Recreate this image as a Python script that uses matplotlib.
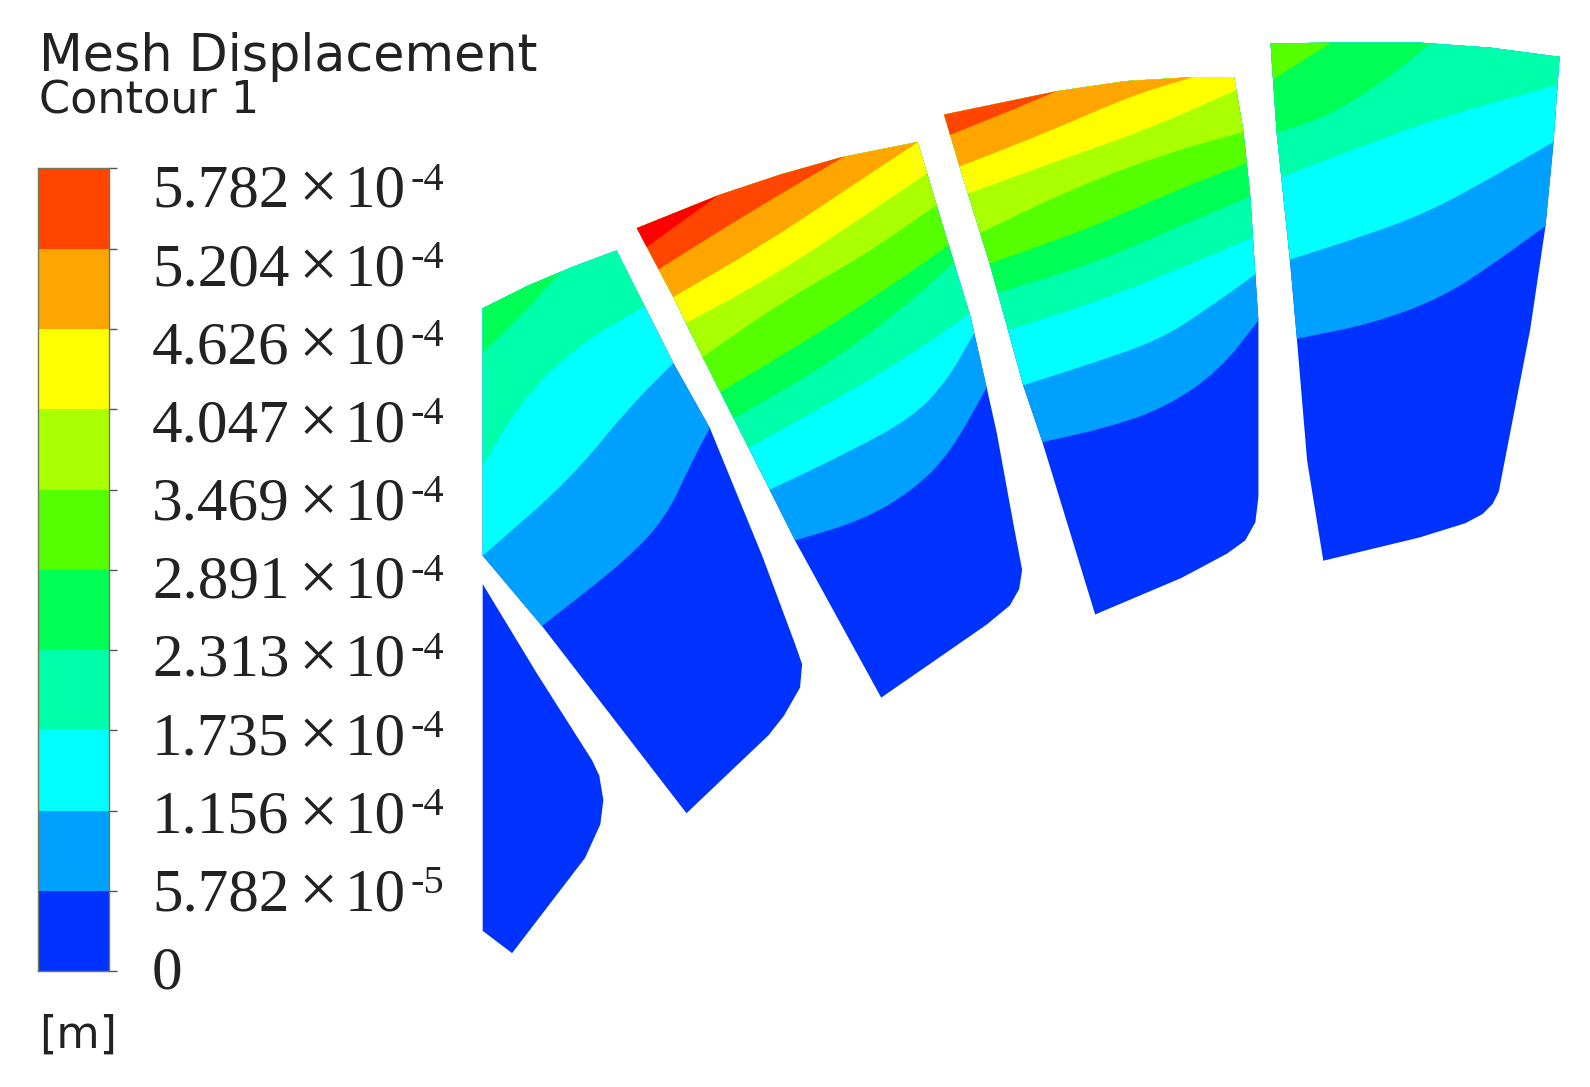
import numpy as np
import matplotlib
matplotlib.use("Agg")
import matplotlib.pyplot as plt
from matplotlib.path import Path
from matplotlib.patches import PathPatch, Polygon

W, H = 1568, 1072  # outline coordinates at this size

#legend values

levels = [0, 5.782e-5, 1.156e-4, 1.735e-4, 2.313e-4, 2.891e-4, 3.469e-4, 4.047e-4, 4.626e-4, 5.204e-4, 5.782e-4]
level_numbers = ['0', '5.782', '1.156', '1.735', '2.313', '2.891', '3.469', '4.047', '4.626', '5.204', '5.782']
level_powers = ['', '-5', '-4', '-4', '-4', '-4', '-4', '-4', '-4', '-4', '-4']
colours = ['#0032ff', '#00a0ff', '#00ffff', '#00ffaa', '#00ff55', '#55ff00',
           '#aaff00', '#ffff00', '#ffa500', '#ff4500', '#ff0000']

#blade outlines

blade_a = [(476,576),(530,665),(584,750),(591,765),(595,789),(592,813),(577,846),(505,940),(476,918)]
blade_b = [(476,304),(520,282),(565,263),(608,247),(664,358),(700,422),(752,549),(784,635),(791,655),(789,678),
           (773,706),(758,725),(677,802),(535,618),(476,548)]
blade_c = [(628,225),(710,192),(770,172),(830,155),(905,140),(928,217),(957,312),(973,382),(983,427),(1000,520),
           (1008,562),(1005,581),(996,597),(973,616),(869,688),(784,533),(759,483),(693,352),(664,293)]
blade_d = [(931,113),(1042,90),(1110,80),(1177,76),(1217,76),(1226,128),(1233,194),(1241,316),(1241,490),(1238,515),
           (1228,533),(1210,546),(1165,570),(1080,606),(1028,436),(1009,380),(976,260),(945,160)]
blade_e = [(1253,43),(1310,42),(1400,42),(1470,47),(1538,56),(1532,141),(1524,224),(1509,325),(1478,485),(1472,497),
           (1462,507),(1445,516),(1400,530),(1305,553),(1289,454),(1279,335),(1272,256),(1259,131)]

#contour lines of each blade, lowest level first

b_lines = [
    [(535,617),(618,552),(657,510),(680,460),(700,422)],
    [(483,542),(562,473),(621,401),(664,358)],
    [(476,460),(513,396),(570,340),(634,303)],
    [(476,348),(513,312),(549,273)],
]
c_lines = [
    [(784,533),(851,513),(901,483),(937,447),(973,382)],
    [(759,483),(835,447),(901,411),(934,375),(957,335)],
    [(740,441),(835,388),(901,348),(957,309)],
    [(727,411),(818,358),(884,309),(940,260)],
    [(713,385),(802,332),(868,289),(934,243)],
    [(693,352),(769,299),(855,250),(927,200)],
    [(676,319),(763,272),(851,214),(914,171)],
    [(664,293),(755,240),(833,188),(904,141)],
    [(649,266),(738,210),(835,153)],
    [(636,245),(705,195)],
]
d_lines = [
    [(1028,436),(1095,421),(1151,401),(1203,365),(1241,316)],
    [(1009,380),(1078,358),(1144,335),(1193,303),(1240,269)],
    [(996,325),(1078,299),(1161,266),(1236,234)],
    [(983,289),(1078,260),(1161,224),(1233,194)],
    [(976,260),(1078,224),(1161,187),(1230,161)],
    [(966,230),(1062,184),(1151,151),(1223,131)],
    [(957,190),(1045,158),(1131,128),(1219,89)],
    [(947,164),(1039,128),(1114,95),(1177,76)],
    [(937,133),(992,111),(1042,90)],
]
e_lines = [
    [(1279,334),(1354,319),(1423,293),(1473,260),(1524,223)],
    [(1272,256),(1341,234),(1407,210),(1473,174),(1532,140)],
    [(1266,174),(1341,145),(1423,115),(1532,85)],
    [(1259,131),(1308,115),(1358,85),(1407,46)],
    [(1253,80),(1313,42)],
]


def band_path(line):
    #everything above a contour line, ends pushed out past the blade edge
    p = np.array(line, dtype=float)
    start = p[0] + (p[0] - p[1]) / np.linalg.norm(p[0] - p[1]) * 45
    end = p[-1] + (p[-1] - p[-2]) / np.linalg.norm(p[-1] - p[-2]) * 45
    p = np.vstack([start, p, end])
    verts = [p[0]]
    codes = [Path.MOVETO]
    for i in range(1, len(p) - 1):
        verts += [p[i], (p[i] + p[i + 1]) / 2]
        codes += [Path.CURVE3, Path.CURVE3]
    verts += [p[-1], (p[-1][0] + 150, -200), (p[0][0] - 150, -200), (p[0][0] - 150, p[0][1]), p[0]]
    codes += [Path.LINETO, Path.LINETO, Path.LINETO, Path.LINETO, Path.CLOSEPOLY]
    return Path(verts, codes)


def draw_blade(ax, outline, lines):
    shape = Polygon(outline, closed=True, fc=colours[0], ec='none')
    ax.add_patch(shape)
    for k, line in enumerate(lines):
        band = PathPatch(band_path(line), fc=colours[k + 1], ec='none')
        ax.add_patch(band)
        band.set_clip_path(shape)


fig = plt.figure(figsize=(15.9, 10.87), dpi=100)
ax = fig.add_axes([0, 0, 1, 1])
ax.set_xlim(0, W)
ax.set_ylim(H, 0)
ax.axis('off')

draw_blade(ax, blade_a, [])
draw_blade(ax, blade_b, b_lines)
draw_blade(ax, blade_c, c_lines)
draw_blade(ax, blade_d, d_lines)
draw_blade(ax, blade_e, e_lines)

#colour bar

cax = fig.add_axes([37 / W, 1 - 958 / H, 70 / W, 792 / H])
for i in range(len(levels) - 1):
    cax.bar(0, levels[i + 1] - levels[i], bottom=levels[i], width=1, color=colours[i])
cax.set_xlim(-0.5, 0.5)
cax.set_ylim(levels[0], levels[-1])
cax.set_xticks([])
cax.set_yticks(levels)
cax.set_yticklabels([])
cax.yaxis.tick_right()
cax.tick_params(axis='y', length=6, width=1, color='#555555')
for s in cax.spines.values():
    s.set_color('#777755')
    s.set_linewidth(1)

#the printed labels drift away from the ticks towards the top

serif = dict(family='Liberation Serif', color='#222222', ha='left', va='baseline')
baselines = np.linspace(975, 204, len(levels))
for num, power, y in zip(level_numbers, level_powers, baselines):
    ax.text(150, y, num, fontsize=44, **serif)
    if power:
        ax.text(294, y + 2, '\u00d7', fontsize=50, **serif)
        ax.text(340, y, '10', fontsize=44, **serif)
        ax.text(405, y - 17, power, fontsize=29, **serif)

sans = dict(family='DejaVu Sans', color='#222222', ha='left', va='baseline')
ax.text(38, 70, 'Mesh Displacement', fontsize=36.5, **sans)
ax.text(38, 112, 'Contour 1', fontsize=32, **sans)
ax.text(39, 1033, '[m]', fontsize=32, **sans)

fig.savefig('out.png', dpi=100)
